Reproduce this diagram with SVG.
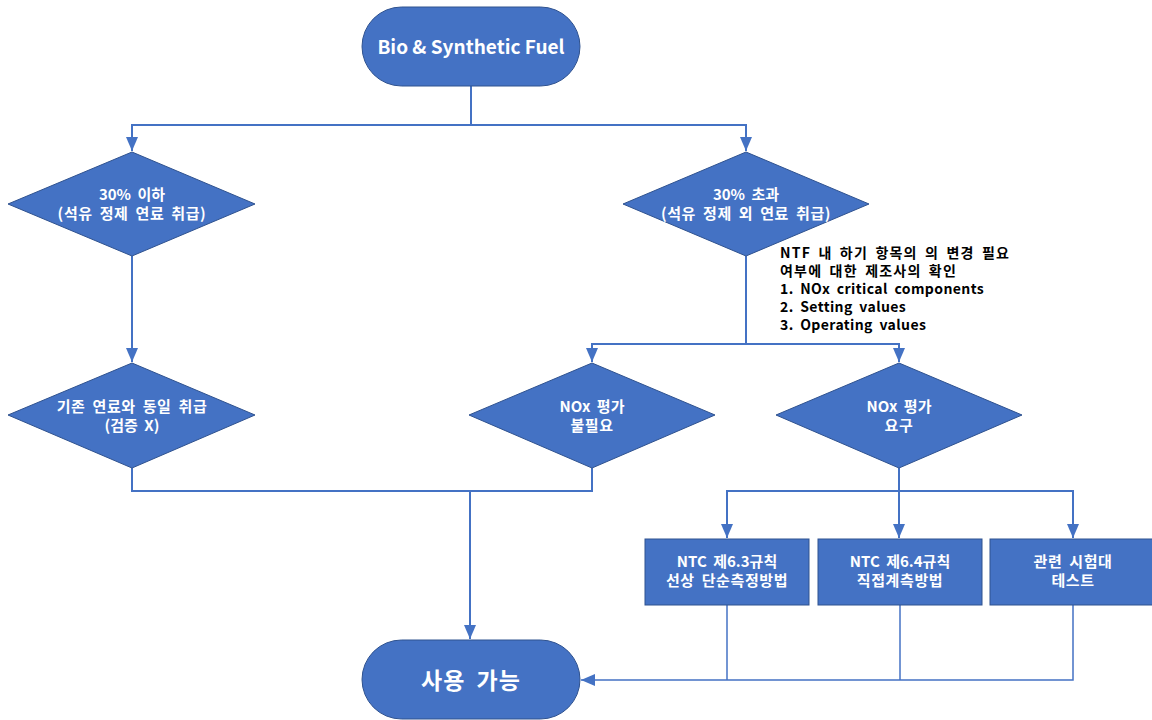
<svg xmlns="http://www.w3.org/2000/svg" width="1152" height="720" viewBox="0 0 1152 720">
<style>
.shape{fill:#4472C4;stroke:#2F528F;stroke-width:1}
.lbl{font-family:"Noto Sans CJK KR","Noto Sans",sans-serif;font-weight:bold;fill:#fff;text-anchor:middle}
.d{font-size:15px;word-spacing:3px}
.note{font-family:"Noto Sans CJK KR","Noto Sans",sans-serif;font-weight:bold;font-size:14px;fill:#000;word-spacing:3px;letter-spacing:0.4px}
.nk{letter-spacing:1.2px}
.k{letter-spacing:0.6px}
.c{fill:none;stroke:#4472C4;stroke-width:2}
.c2{fill:none;stroke:#4472C4;stroke-width:1.5}
</style>
<defs>
<marker id="ahb" markerWidth="14" markerHeight="12" refX="14" refY="6" orient="auto" markerUnits="userSpaceOnUse" viewBox="0 0 14 12">
<path d="M0,0 L14,6 L0,12 Z" fill="#4472C4"/>
</marker>
</defs>
<rect width="1152" height="720" fill="#fff"/>
<g id="connectors">
<path class="c" d="M471,86 V125"/>
<path class="c" d="M471,125 H132 V151" marker-end="url(#ahb)"/>
<path class="c" d="M471,125 H746 V151" marker-end="url(#ahb)"/>
<path class="c" d="M132,256 V362" marker-end="url(#ahb)"/>
<path class="c" d="M746,256 V344"/>
<path class="c" d="M746,344 H592 V362" marker-end="url(#ahb)"/>
<path class="c" d="M746,344 H899 V362" marker-end="url(#ahb)"/>
<path class="c" d="M132,468 V491 H470"/>
<path class="c" d="M592,468 V491 H470"/>
<path class="c" d="M470,491 V639" marker-end="url(#ahb)"/>
<path class="c" d="M899,468 V491"/>
<path class="c" d="M899,491 H727 V538" marker-end="url(#ahb)"/>
<path class="c" d="M899,491 V538" marker-end="url(#ahb)"/>
<path class="c" d="M899,491 H1073 V538" marker-end="url(#ahb)"/>
<path class="c2" d="M727,605 V680"/>
<path class="c2" d="M900,605 V680"/>
<path class="c2" d="M1073,605 V680 H581" marker-end="url(#ahb)"/>
</g>
<g id="start">
<rect class="shape" x="362" y="7" width="218" height="79" rx="39.5"/>
<text class="lbl" x="471" y="54" font-size="19">Bio &amp; Synthetic Fuel</text>
</g>
<g id="d-le30">
<polygon class="shape" points="132,152 255,204 132,256 8,204"/>
<text class="lbl d" x="132" y="200">30% 이하</text>
<text class="lbl d k" x="132" y="219">(석유 정제 연료 취급)</text>
</g>
<g id="d-gt30">
<polygon class="shape" points="746,152 869,204 746,256 623,204"/>
<text class="lbl d" x="746" y="200">30% 초과</text>
<text class="lbl d k" x="746" y="219">(석유 정제 외 연료 취급)</text>
</g>
<g id="note">
<text class="note nk" x="780" y="258">NTF 내 하기 항목의 의 변경 필요</text>
<text class="note nk" x="780" y="276">여부에 대한 제조사의 확인</text>
<text class="note" x="780" y="294">1. NOx critical components</text>
<text class="note" x="780" y="312">2. Setting values</text>
<text class="note" x="780" y="330">3. Operating values</text>
</g>
<g id="d-same">
<polygon class="shape" points="132,363 255,415 132,468 8,415"/>
<text class="lbl d k" x="132" y="412">기존 연료와 동일 취급</text>
<text class="lbl d" x="132" y="431">(검증 X)</text>
</g>
<g id="d-nox-no">
<polygon class="shape" points="592,363 715,415 592,468 469,415"/>
<text class="lbl d" x="592" y="412">NOx 평가</text>
<text class="lbl d k" x="592" y="431">불필요</text>
</g>
<g id="d-nox-req">
<polygon class="shape" points="899,363 1022,415 899,468 776,415"/>
<text class="lbl d" x="899" y="412">NOx 평가</text>
<text class="lbl d k" x="899" y="431">요구</text>
</g>
<g id="b-63">
<rect class="shape" x="645" y="539" width="164" height="66"/>
<text class="lbl d" x="727" y="567">NTC 제6.3규칙</text>
<text class="lbl d k" x="727" y="586">선상 단순측정방법</text>
</g>
<g id="b-64">
<rect class="shape" x="818" y="539" width="164" height="66"/>
<text class="lbl d" x="900" y="567">NTC 제6.4규칙</text>
<text class="lbl d k" x="900" y="586">직접계측방법</text>
</g>
<g id="b-test">
<rect class="shape" x="990" y="539" width="166" height="66"/>
<text class="lbl d k" x="1073" y="567">관련 시험대</text>
<text class="lbl d k" x="1073" y="586">테스트</text>
</g>
<g id="end">
<rect class="shape" x="362" y="640" width="218" height="79" rx="39.5"/>
<text class="lbl" x="471" y="689" font-size="23" word-spacing="5" letter-spacing="1">사용 가능</text>
</g>
</svg>
